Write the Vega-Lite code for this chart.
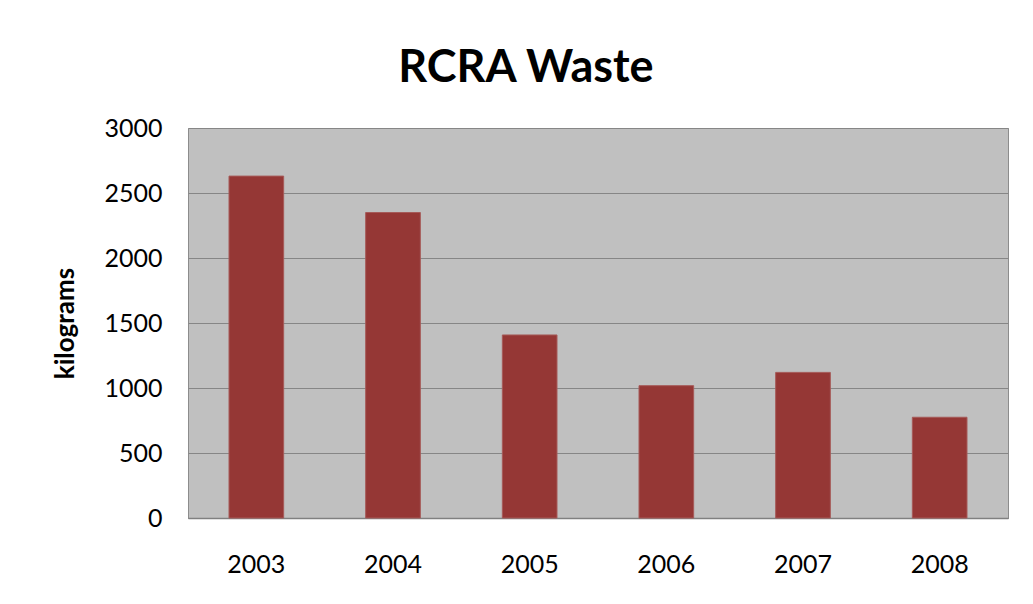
{
  "$schema": "https://vega.github.io/schema/vega-lite/v6.json",
  "autosize": "none",
  "width": 820,
  "height": 390,
  "padding": {"left": 188, "top": 128, "right": 25, "bottom": 86},
  "background": "white",
  "title": {
    "text": "RCRA Waste",
    "font": "Lato",
    "fontSize": 45,
    "fontWeight": "bold",
    "color": "#000000",
    "anchor": "middle",
    "frame": "group",
    "baseline": "bottom",
    "offset": -20,
    "dx": -72
  },
  "data": {
    "values": [
      {"year": "2003", "kg": 2630},
      {"year": "2004", "kg": 2350},
      {"year": "2005", "kg": 1408},
      {"year": "2006", "kg": 1018},
      {"year": "2007", "kg": 1120},
      {"year": "2008", "kg": 775}
    ]
  },
  "mark": {"type": "bar", "color": "#953735", "stroke": "#a65a58", "strokeWidth": 1},
  "encoding": {
    "x": {
      "field": "year",
      "type": "nominal",
      "sort": null,
      "scale": {"paddingInner": 0.6, "paddingOuter": 0.3},
      "axis": {
        "title": null,
        "labelAngle": 0,
        "labelFont": "Lato",
        "labelFontSize": 25,
        "labelColor": "#000000",
        "labelPadding": 34,
        "ticks": false,
        "tickSize": 0,
        "domainColor": "#808080",
        "domainWidth": 1.5,
        "grid": false
      }
    },
    "y": {
      "field": "kg",
      "type": "quantitative",
      "scale": {"domain": [0, 3000], "nice": false},
      "axis": {
        "title": "kilograms",
        "titleFont": "Lato",
        "titleFontSize": 26,
        "titleFontWeight": "bold",
        "titleColor": "#000000",
        "titlePadding": 25,
        "format": "d",
        "values": [0, 500, 1000, 1500, 2000, 2500, 3000],
        "labelFont": "Lato",
        "labelFontSize": 25,
        "labelColor": "#000000",
        "labelPadding": 26,
        "ticks": false,
        "tickSize": 0,
        "domain": false,
        "grid": true,
        "gridColor": "#868686",
        "gridWidth": 1.2
      }
    }
  },
  "config": {
    "view": {"fill": "#c0c0c0", "stroke": "#8c8c8c", "strokeWidth": 1}
  }
}
